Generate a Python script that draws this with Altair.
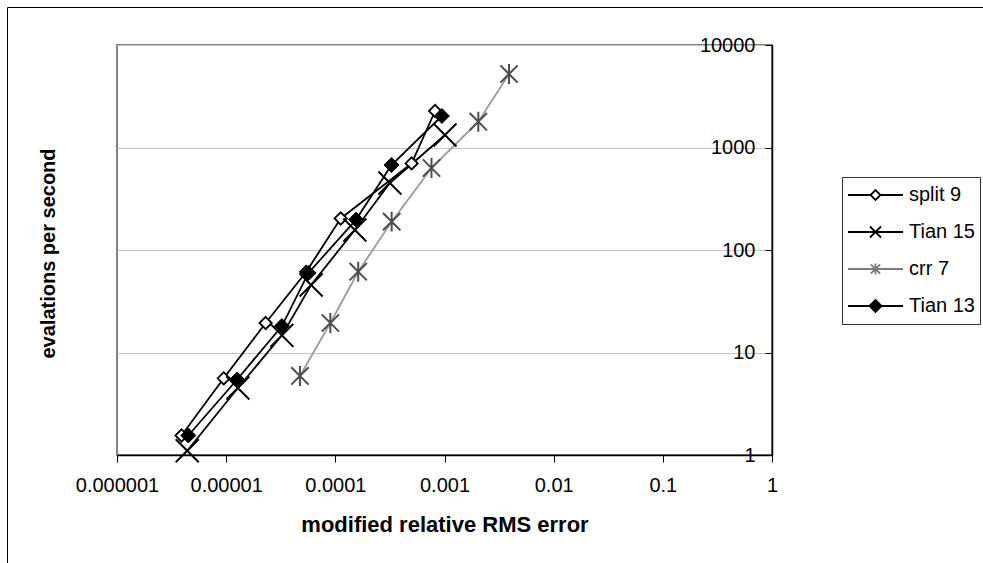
import altair as alt
import pandas as pd

series_names = ["split 9", "Tian 15", "crr 7", "Tian 13"]

split9_err = [3.9e-6, 9.5e-6, 2.3e-5, 5.4e-5, 1.12e-4, 5.0e-4, 8.2e-4]
split9_evals = [1.55, 5.6, 19.4, 61, 203, 700, 2270]

tian15_err = [4.4e-6, 1.28e-5, 3.24e-5, 6.0e-5, 1.51e-4, 3.16e-4, 1.01e-3]
tian15_evals = [1.1, 4.5, 14.7, 45.6, 157, 451, 1324]

crr7_err = [4.74e-5, 9.0e-5, 1.62e-4, 3.28e-4, 7.6e-4, 2.04e-3, 3.9e-3]
crr7_evals = [5.9, 19.4, 61.4, 189, 631, 1786, 5213]

tian13_err = [4.5e-6, 1.26e-5, 3.24e-5, 5.67e-5, 1.55e-4, 3.27e-4, 9.46e-4]
tian13_evals = [1.55, 5.45, 18.1, 59.7, 198, 675, 2030]

x_ticks = [1e-6, 1e-5, 1e-4, 1e-3, 1e-2, 1e-1, 1]
y_ticks = [1, 10, 100, 1000, 10000]

rows = []
for name, xs, ys in zip(series_names,
                        [split9_err, tian15_err, crr7_err, tian13_err],
                        [split9_evals, tian15_evals, crr7_evals, tian13_evals]):
    for i, (a, b) in enumerate(zip(xs, ys)):
        rows.append({"series": name, "err": a, "evals": b, "idx": i})
df = pd.DataFrame(rows)

FONT = "Liberation Sans"

x_enc = alt.X(
    "err:Q",
    scale=alt.Scale(type="log", domain=[1e-6, 1], nice=False),
    axis=alt.Axis(
        values=x_ticks, format="~f", grid=False,
        domainColor="black", domainWidth=1.5,
        tickColor="black", tickSize=7, tickWidth=1,
        labelFont=FONT, labelFontSize=20, labelColor="black", labelPadding=13,
        labelFlush=False, labelOverlap=False,
        title="modified relative RMS error", titleFont=FONT, titleFontSize=22,
        titleFontWeight="bold", titleColor="black",
        titleBaseline="alphabetic", titleY=76,
    ),
)

y_enc = alt.Y(
    "evals:Q",
    scale=alt.Scale(type="log", domain=[1, 10000], nice=False),
    axis=alt.Axis(
        orient="left", offset=-655, values=y_ticks, format="~f",
        grid=True, gridColor="#c4c4c4", gridWidth=1,
        domainColor="black", domainWidth=1.5,
        tickColor="black", tickSize=7, tickWidth=1,
        labelFont=FONT, labelFontSize=20, labelColor="black", labelPadding=10,
        labelFlush=False, labelOverlap=False,
        title="evalations per second", titleFont=FONT, titleFontSize=20,
        titleFontWeight="bold", titleColor="black", titleAngle=270,
        titleBaseline="alphabetic", titleAlign="center",
        titleX=-718, titleY=208,
    ),
)

base = alt.Chart(df)

frame = alt.Chart(alt.Data(values=[{"f": 1}])).mark_rect(
    fill="transparent", stroke="black", strokeWidth=1
).encode(
    x=alt.value(-109.5), x2=alt.value(1000),
    y=alt.value(-37.5), y2=alt.value(700),
)


def line(name, color):
    return base.transform_filter(alt.datum.series == name).mark_line(
        strokeWidth=1.8, color=color
    ).encode(x=x_enc, y=y_enc, order="idx:O")


def pts(name, **mk):
    return base.transform_filter(alt.datum.series == name).mark_point(
        opacity=1, **mk
    ).encode(x=x_enc, y=y_enc)


l_split9 = line("split 9", "black")
l_tian15 = line("Tian 15", "black")
l_crr7 = line("crr 7", "#9a9a9a")
l_tian13 = line("Tian 13", "black")

p_split9 = pts("split 9", shape="diamond", filled=True, fill="white",
               stroke="black", strokeWidth=1.8, size=150)
p_tian15 = pts("Tian 15", shape="M-1,-1L1,1M-1,1L1,-1", filled=False,
               stroke="black", strokeWidth=2, size=529)
p_crr7 = pts("crr 7", shape="M-1,-1L1,1M-1,1L1,-1M0,-1.15L0,1.15", filled=False,
             stroke="#4d4d4d", strokeWidth=2, size=300)
p_tian13 = pts("Tian 13", shape="diamond", filled=True, fill="black",
               stroke="black", strokeWidth=1, size=225)

legend_paths = [
    "M-1,0L-0.18,0M0.18,0L1,0M0,-0.18L0.18,0L0,0.18L-0.18,0Z",
    "M-1,0L1,0M-0.2,-0.2L0.2,0.2M-0.2,0.2L0.2,-0.2",
    "M-1,0L1,0M-0.17,-0.17L0.17,0.17M-0.17,0.17L0.17,-0.17M0,-0.2L0,0.2",
    "M-1,0L1,0M0,-0.22L0.22,0L0,0.22L-0.22,0Z",
]

leg = alt.Legend(title=None, orient="none", legendX=725, legendY=132)

legend_layer = base.transform_filter("false").mark_point(
    filled=True, opacity=1, strokeWidth=1.8
).encode(
    x=x_enc, y=y_enc,
    shape=alt.Shape("series:N", scale=alt.Scale(domain=series_names, range=legend_paths),
                    legend=leg),
    stroke=alt.Stroke("series:N", scale=alt.Scale(domain=series_names,
                                                  range=["black", "black", "#7a7a7a", "black"]),
                      legend=leg),
    fill=alt.Fill("series:N", scale=alt.Scale(domain=series_names,
                                              range=["white", "transparent", "transparent", "black"]),
                  legend=leg),
)

chart = alt.layer(
    frame, l_split9, l_tian15, l_crr7, l_tian13,
    p_split9, p_tian15, p_crr7, p_tian13, legend_layer
).properties(
    width=655, height=410,
    autosize=alt.AutoSizeParams(type="none"),
    padding={"left": 117, "top": 45, "right": 211, "bottom": 108},
    background="white",
).configure(
    font=FONT
).configure_view(
    stroke="#808080", strokeWidth=2
).configure_legend(
    symbolSize=3025, symbolStrokeWidth=1.8, symbolOffset=0, symbolOpacity=1,
    labelFont=FONT, labelFontSize=20, labelColor="black", labelOffset=5,
    clipHeight=26, rowPadding=11, padding=5,
    strokeColor="#333333", fillColor="white",
)

chart.save("out.html", embed_options={"renderer": "svg", "actions": False})
